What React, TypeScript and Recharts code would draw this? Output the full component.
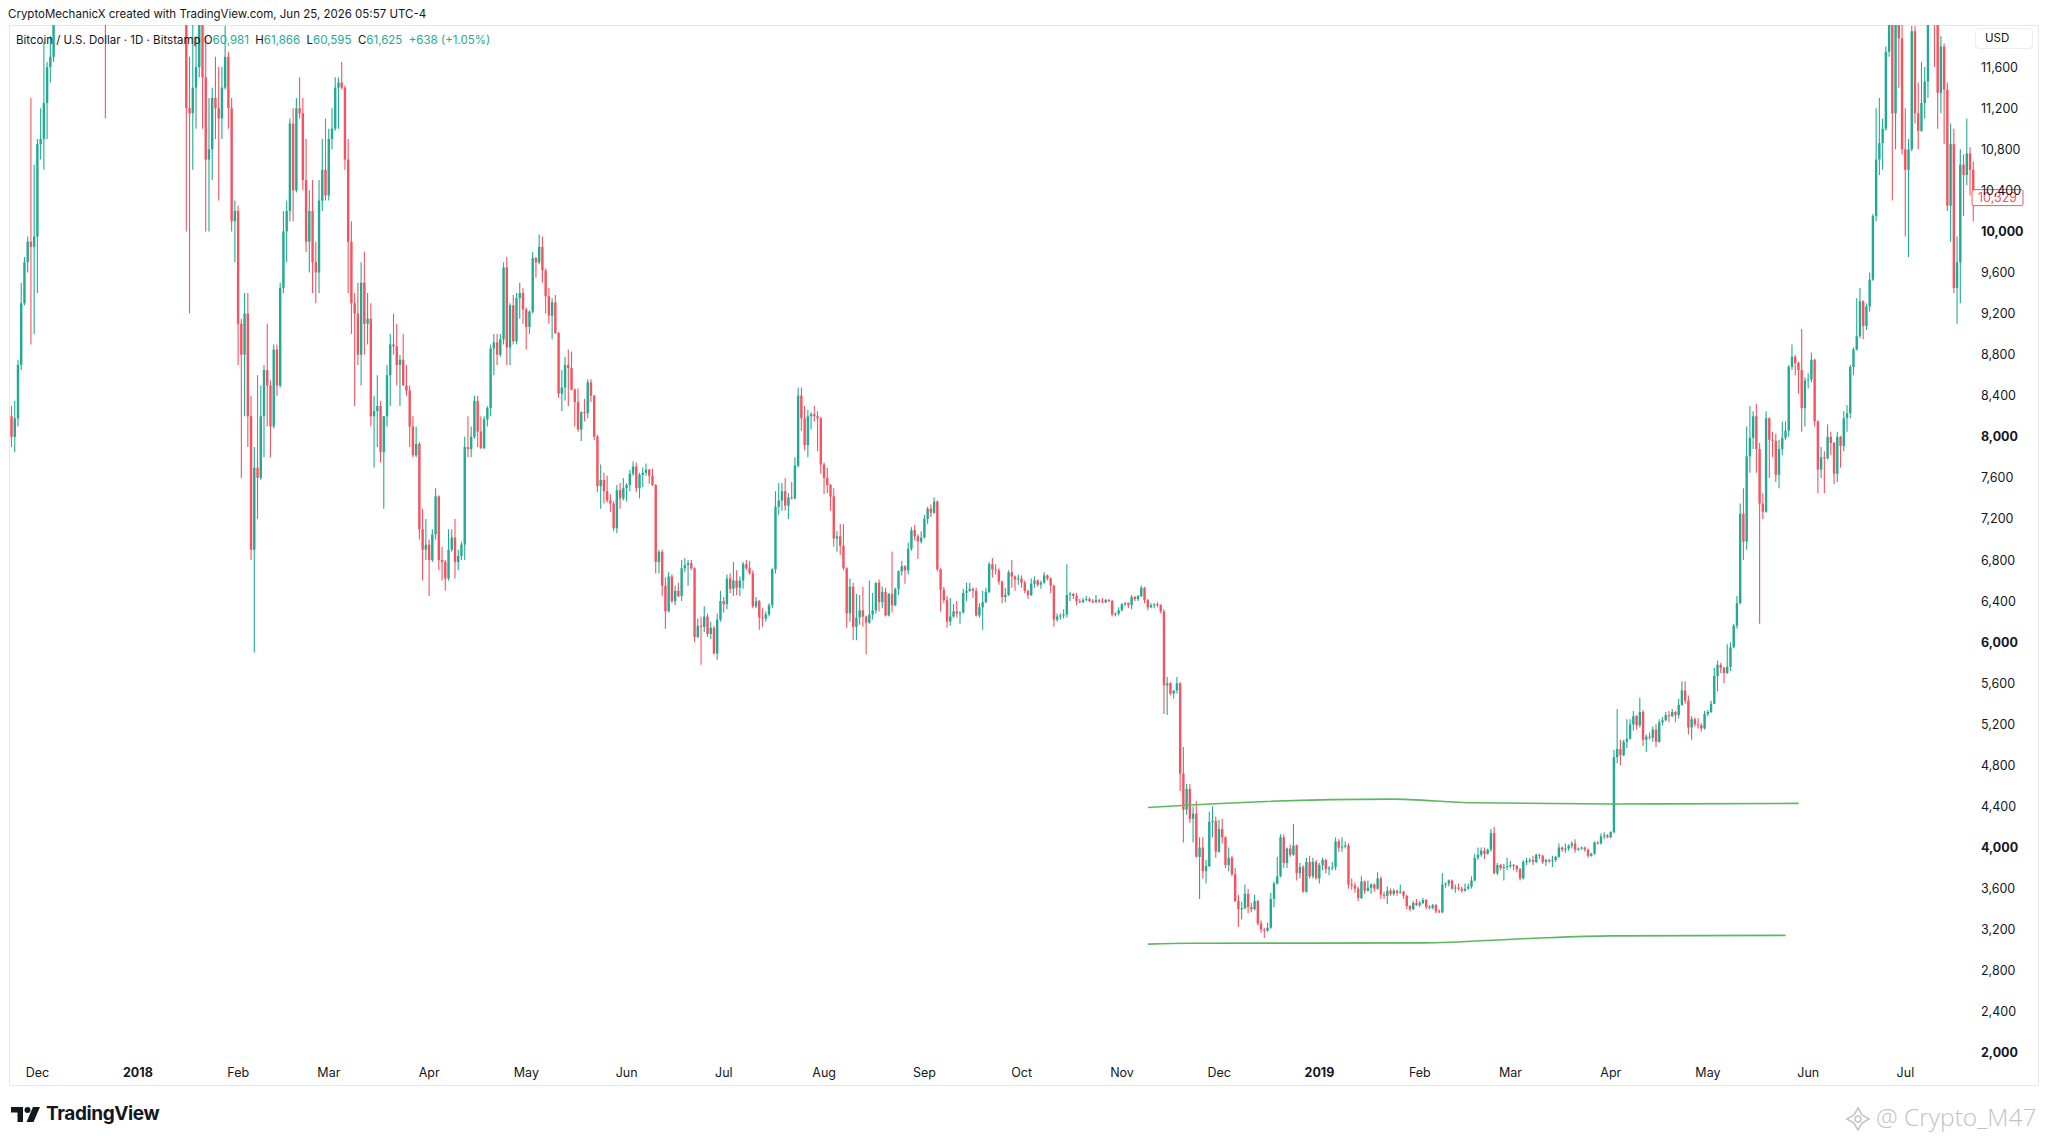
import React from "react";
import { ComposedChart, Bar, Line, XAxis, YAxis, ReferenceLine } from "recharts";

type Ohlc = [number, number, number, number]; // open, high, low, close

// ---- daily candles, BTC/USD Bitstamp ----
const nov2017: Ohlc[] = [
  [8200,8300,7900,8000],[8000,8350,7850,8180],[8180,8750,8100,8700],[8700,9500,8650,9300],[9300,9750,9280,9700],
  [9700,9950,9600,9900],[9900,11300,8900,9850],[9850,10650,9000,9950],
];
const dec2017: Ohlc[] = [
  [9950,10900,9400,10850],[10850,11200,10700,10900],[10900,11850,10600,11250],[11250,11650,10900,11600],[11600,11900,11450,11700],
  [11700,13900,11650,13700],[13700,17200,13500,16800],[16800,17300,13900,16000],[16000,16300,13100,14800],[14800,15600,13000,15000],
  [15000,17400,14900,16700],[16700,17500,16300,17200],[17200,17400,15900,16400],[16400,16900,16100,16600],[16600,17900,16300,17600],
  [17600,19200,17500,19100],[19100,19700,18900,19000],[19000,19100,18000,18900],[18900,19000,16500,17500],[17500,17800,15300,16400],
  [16400,17300,14700,15500],[15500,15800,11100,13600],[13600,15300,13400,14000],[14000,14100,12500,13800],[13800,14300,13300,13900],
  [13900,16400,13800,15800],[15800,16400,14800,15300],[15300,15400,13600,14300],[14300,15100,14000,14600],[14600,14700,12100,12700],
  [12700,14300,12600,13800],
];
const jan2018: Ohlc[] = [
  [13800,13900,12800,13400],[13400,15300,12900,14700],[14700,15400,14600,15100],[15100,15400,14000,15150],[15150,17100,14600,16900],
  [16900,17200,16200,17000],[17000,17050,15700,16100],[16100,16200,13900,14900],[14900,15400,14200,14500],[14500,14800,13100,14700],
  [14700,14800,12800,13300],[13300,14100,12800,13800],[13800,14600,13700,14200],[14200,14300,13100,13600],[13600,14300,13400,13650],
  [13650,13700,10000,11200],[11200,11700,9200,11150],[11150,12100,10600,11400],[11400,11900,11000,11600],[11600,13000,11500,12800],
  [12800,12850,11000,11500],[11500,11900,10000,10700],[10700,11300,10000,10800],[10800,11400,10500,11300],[11300,11700,10900,11200],
  [11200,11600,10300,11100],[11100,11600,10900,11400],[11400,12000,11380,11700],[11700,11750,11000,11200],[11200,11300,10000,10100],
  [10100,10300,9700,10200],
];
const feb2018: Ohlc[] = [
  [10200,10250,8700,9100],[9100,9150,7600,8800],[8800,9400,8200,9200],[9200,9400,7900,8200],[8200,8400,6800,6900],
  [6900,7900,5900,7700],[7700,8600,7200,7600],[7600,8500,7580,8200],[8200,8700,7800,8650],[8650,9100,8100,8500],
  [8500,8550,7800,8100],[8100,8900,8080,8850],[8850,8900,8400,8500],[8500,9500,8480,9450],[9450,10200,9400,10000],
  [10000,10300,9700,10200],[10200,11100,10100,11050],[11050,11200,10100,10400],[10400,11300,10380,11200],[11200,11500,11100,11150],
  [11150,11300,10400,10500],[10500,10900,9800,9900],[9900,10400,9600,10200],[10200,10500,9400,9700],[9700,9900,9300,9600],
  [9600,10500,9400,10300],[10300,10900,10200,10600],[10600,11100,10300,10350],
];
const mar2018: Ohlc[] = [
  [10350,11000,10300,10900],[10900,11200,10800,11000],[11000,11500,10980,11400],[11400,11500,11000,11450],[11450,11650,11380,11400],
  [11400,11420,10600,10700],[10700,10900,9400,9900],[9900,10100,9000,9300],[9300,9400,8300,9200],[9200,9500,8700,8800],
  [8800,9700,8500,9500],[9500,9800,8800,9100],[9100,9400,8900,9150],[9150,9300,8100,8200],[8200,8400,7700,8250],
  [8250,8600,7900,8300],[8300,8350,7750,7850],[7850,8200,7300,8200],[8200,8700,8100,8600],[8600,9000,8300,8900],
  [8900,9200,8800,8880],[8880,9100,8500,8700],[8700,8800,8300,8750],[8750,9000,8500,8500],[8500,8700,8400,8450],
  [8450,8500,7900,8100],[8100,8200,7800,7820],[7820,8100,7800,7930],[7930,7950,7000,7100],[7100,7300,6600,6900],
  [6900,7200,6800,6950],
];
const apr2018: Ohlc[] = [
  [6950,7000,6450,6800],[6800,7100,6780,7050],[7050,7500,7000,7420],[7420,7430,6700,6800],[6800,6930,6600,6780],
  [6780,6800,6500,6620],[6620,7100,6600,6900],[6900,7100,6880,7020],[7020,7200,6620,6780],[6780,6900,6700,6840],
  [6840,6980,6800,6950],[6950,8000,6800,7900],[7900,8200,7800,7880],[7880,8100,7800,8000],[8000,8400,7980,8350],
  [8350,8400,7900,8050],[8050,8200,7880,7890],[7890,8200,7880,8170],[8170,8300,8100,8280],[8280,8900,8200,8860],
  [8860,9000,8600,8920],[8920,9000,8700,8800],[8800,9000,8780,8950],[8950,9700,8900,9650],[9650,9750,8700,8870],
  [8870,9300,8700,9280],[9280,9380,8900,8930],[8930,9400,8900,9350],[9350,9500,9150,9400],[9400,9450,9100,9240],
];
const may2018: Ohlc[] = [
  [9240,9260,8850,9070],[9070,9230,9000,9220],[9220,9800,9200,9740],[9740,9750,9550,9700],[9700,9970,9680,9850],
  [9850,9950,9500,9620],[9620,9640,9200,9370],[9370,9450,9100,9180],[9180,9350,8950,9310],[9310,9380,9000,9010],
  [9010,9020,8380,8420],[8420,8650,8250,8480],[8480,8780,8350,8700],[8700,8850,8300,8670],[8670,8830,8450,8460],
  [8460,8470,8100,8340],[8340,8470,8050,8070],[8070,8250,7960,8240],[8240,8370,8150,8230],[8230,8560,8180,8530],
  [8530,8560,8340,8400],[8400,8410,7970,8000],[8000,8020,7460,7520],[7520,7730,7300,7580],[7580,7650,7350,7470],
  [7470,7620,7360,7380],[7380,7440,7270,7350],[7350,7370,7080,7110],[7110,7530,7060,7480],[7480,7550,7300,7400],
  [7400,7600,7380,7500],
];
const jun2018: Ohlc[] = [
  [7500,7550,7370,7530],[7530,7680,7470,7640],[7640,7760,7620,7710],[7710,7750,7460,7500],[7500,7650,7400,7630],
  [7630,7700,7510,7650],[7650,7740,7620,7680],[7680,7690,7540,7620],[7620,7690,7520,7530],[7530,7540,6670,6780],
  [6780,6900,6670,6880],[6880,6900,6450,6550],[6550,6630,6130,6300],[6300,6680,6290,6640],[6640,6660,6380,6400],
  [6400,6550,6360,6500],[6500,6580,6440,6450],[6450,6800,6400,6720],[6720,6820,6680,6750],[6750,6800,6550,6770],
  [6770,6800,6700,6720],[6720,6730,6000,6050],[6050,6230,6040,6160],[6160,6250,5780,6150],[6150,6350,6100,6250],
  [6250,6280,6050,6080],[6080,6200,6030,6140],[6140,6160,5880,5890],[5890,6280,5830,6220],[6220,6500,6200,6400],
];
const jul2018: Ohlc[] = [
  [6400,6440,6290,6370],[6370,6660,6320,6620],[6620,6670,6480,6520],[6520,6780,6450,6600],[6600,6700,6460,6530],
  [6530,6640,6450,6600],[6600,6780,6520,6760],[6760,6800,6700,6720],[6720,6790,6660,6670],[6670,6700,6330,6350],
  [6350,6440,6330,6400],[6400,6410,6120,6240],[6240,6330,6150,6230],[6230,6300,6200,6270],[6270,6380,6250,6360],
  [6360,6720,6330,6710],[6710,7470,6670,7320],[7320,7550,7240,7380],[7380,7550,7280,7470],[7470,7600,7280,7330],
  [7330,7450,7200,7410],[7410,7560,7390,7400],[7400,7800,7390,7720],[7720,8480,7700,8400],[8400,8480,8060,8180],
  [8180,8300,7870,7920],[7920,8260,7800,8200],[8200,8240,8070,8220],[8220,8300,8150,8200],[8200,8250,7860,8180],
  [8180,8190,7640,7730],
];
const aug2018: Ohlc[] = [
  [7730,7750,7440,7600],[7600,7700,7450,7530],[7530,7540,7280,7420],[7420,7500,6930,7010],[7010,7080,6880,7030],
  [7030,7150,6850,6940],[6940,7150,6700,6720],[6720,6730,6140,6280],[6280,6620,6200,6540],[6540,6580,6020,6150],
  [6150,6470,6020,6240],[6240,6460,6170,6310],[6310,6540,6150,6250],[6250,6260,5880,6190],[6190,6600,6180,6270],
  [6270,6480,6220,6310],[6310,6580,6280,6580],[6580,6610,6300,6390],[6390,6540,6330,6490],[6490,6530,6250,6260],
  [6260,6480,6250,6470],[6470,6880,6290,6360],[6360,6530,6350,6520],[6520,6700,6460,6690],[6690,6790,6650,6740],
  [6740,6750,6570,6700],[6700,6970,6660,6910],[6910,7120,6890,7090],[7090,7140,6990,7030],[7030,7050,6810,6980],
  [6980,7080,6960,7020],
];
const sep2018: Ohlc[] = [
  [7020,7240,7010,7200],[7200,7320,7150,7300],[7300,7340,7220,7260],[7260,7410,7250,7370],[7370,7380,6690,6710],
  [6710,6720,6300,6510],[6510,6540,6380,6410],[6410,6450,6140,6200],[6200,6430,6160,6250],[6250,6370,6240,6300],
  [6300,6400,6240,6280],[6280,6300,6180,6290],[6290,6520,6280,6480],[6480,6580,6400,6500],[6500,6580,6490,6520],
  [6520,6530,6430,6500],[6500,6530,6250,6260],[6260,6380,6240,6340],[6340,6500,6120,6390],[6390,6530,6380,6490],
  [6490,6780,6480,6760],[6760,6820,6630,6710],[6710,6760,6660,6700],[6700,6720,6560,6590],[6590,6600,6380,6440],
  [6440,6530,6390,6460],[6460,6700,6450,6680],[6680,6800,6530,6640],[6640,6650,6500,6610],[6610,6660,6560,6620],
];
const oct2018: Ohlc[] = [
  [6620,6650,6530,6580],[6580,6600,6480,6500],[6500,6510,6420,6460],[6460,6620,6450,6570],[6570,6640,6530,6600],
  [6600,6610,6540,6560],[6560,6600,6520,6580],[6580,6680,6570,6650],[6650,6660,6600,6620],[6620,6630,6480,6550],
  [6550,6560,6150,6220],[6220,6280,6200,6250],[6250,6280,6220,6260],[6260,6320,6230,6270],[6270,6760,6240,6460],
  [6460,6490,6400,6470],[6470,6480,6420,6450],[6450,6480,6360,6400],[6400,6420,6380,6390],[6390,6430,6380,6410],
  [6410,6450,6400,6420],[6420,6440,6390,6400],[6400,6420,6380,6390],[6390,6460,6380,6410],[6410,6420,6380,6400],
  [6400,6430,6380,6390],[6390,6420,6380,6410],[6410,6420,6390,6400],[6400,6410,6250,6270],[6270,6290,6250,6280],
  [6280,6340,6260,6310],
];
const nov2018: Ohlc[] = [
  [6310,6380,6300,6370],[6370,6390,6350,6380],[6380,6390,6330,6360],[6360,6460,6320,6440],[6440,6450,6400,6420],
  [6420,6460,6400,6450],[6450,6550,6440,6530],[6530,6540,6380,6410],[6410,6420,6310,6340],[6340,6380,6330,6360],
  [6360,6380,6330,6370],[6370,6390,6340,6360],[6360,6370,6280,6300],[6300,6320,5300,5580],[5580,5660,5290,5600],
  [5600,5610,5480,5500],[5500,5530,5450,5530],[5530,5660,5500,5600],[5600,5610,4550,4720],[4720,4980,4050,4370],
  [4370,4620,4320,4570],[4570,4620,4240,4280],[4280,4400,4050,4330],[4330,4450,3900,3910],[3910,4100,3500,4000],
  [4000,4100,3700,3770],[3770,3880,3650,3820],[3820,4350,3810,4250],[4250,4400,4100,4260],[4260,4300,3900,3960],
];
const dec2018: Ohlc[] = [
  [3960,4270,3950,4180],[4180,4280,4040,4100],[4100,4110,3800,3830],[3830,4000,3770,3900],[3900,3920,3720,3740],
  [3740,3800,3470,3480],[3480,3540,3230,3400],[3400,3470,3300,3410],[3410,3640,3400,3550],[3550,3600,3360,3420],
  [3420,3460,3370,3400],[3400,3540,3390,3480],[3480,3490,3240,3260],[3260,3290,3170,3200],[3200,3220,3120,3190],
  [3190,3270,3180,3220],[3220,3560,3210,3500],[3500,3670,3420,3650],[3650,3910,3640,3720],[3720,4130,3710,4100],
  [4100,4130,3800,3850],[3850,4000,3800,3990],[3990,4030,3910,3930],[3930,4230,3920,4020],[4020,4030,3680,3750],
  [3750,3850,3700,3810],[3810,3830,3560,3570],[3570,3900,3560,3860],[3860,3920,3700,3720],[3720,3900,3700,3860],
  [3860,3880,3690,3700],
];
const jan2019: Ohlc[] = [
  [3700,3850,3650,3830],[3830,3900,3780,3880],[3880,3890,3750,3790],[3790,3820,3730,3800],[3800,3860,3780,3810],
  [3810,4100,3780,4060],[4060,4080,3960,4000],[4000,4100,3960,4010],[4010,4060,3990,4020],[4020,4040,3600,3640],
  [3640,3700,3590,3630],[3630,3660,3560,3600],[3600,3620,3480,3510],[3510,3720,3500,3670],[3670,3680,3550,3580],
  [3580,3680,3570,3610],[3610,3650,3550,3640],[3640,3650,3570,3600],[3600,3760,3590,3700],[3700,3720,3500,3540],
  [3540,3570,3500,3530],[3530,3620,3450,3580],[3580,3600,3530,3550],[3550,3600,3530,3580],[3580,3590,3530,3560],
  [3560,3640,3550,3570],[3570,3580,3500,3530],[3530,3540,3400,3430],[3430,3440,3380,3400],[3400,3480,3390,3460],
  [3460,3500,3430,3440],
];
const feb2019: Ohlc[] = [
  [3440,3480,3420,3460],[3460,3510,3450,3490],[3490,3500,3400,3420],[3420,3440,3400,3410],[3410,3450,3400,3440],
  [3440,3450,3360,3380],[3380,3400,3360,3370],[3370,3750,3360,3640],[3640,3660,3610,3650],[3650,3690,3620,3680],
  [3680,3690,3590,3600],[3600,3640,3560,3610],[3610,3650,3580,3600],[3600,3620,3560,3580],[3580,3650,3570,3600],
  [3600,3650,3590,3620],[3620,3720,3600,3680],[3680,3940,3670,3900],[3900,4000,3880,3930],[3930,4000,3910,3970],
  [3970,4000,3890,3940],[3940,3990,3930,3980],[3980,4180,3960,4140],[4140,4200,3740,3750],[3750,3850,3730,3830],
  [3830,3840,3780,3800],[3800,3840,3680,3810],[3810,3900,3780,3820],
];
const mar2019: Ohlc[] = [
  [3820,3870,3800,3830],[3830,3840,3780,3820],[3820,3830,3760,3790],[3790,3800,3680,3700],[3700,3880,3690,3860],
  [3860,3900,3830,3870],[3870,3900,3850,3880],[3880,3920,3830,3860],[3860,3940,3850,3930],[3930,3940,3890,3920],
  [3920,3930,3840,3860],[3860,3890,3820,3880],[3880,3890,3850,3870],[3870,3920,3810,3880],[3880,3920,3860,3910],
  [3910,4040,3900,4000],[4000,4010,3960,3980],[3980,4040,3950,3990],[3990,4030,3970,4020],[4020,4060,3990,4040],
  [4040,4080,3950,3980],[3980,4000,3970,3990],[3990,4010,3980,4000],[4000,4010,3960,3980],[3980,3990,3900,3920],
  [3920,3950,3910,3940],[3940,4060,3930,4050],[4050,4060,4030,4040],[4040,4140,4030,4110],[4110,4150,4080,4120],
  [4120,4130,4090,4100],
];
const apr2019: Ohlc[] = [
  [4100,4160,4090,4150],[4150,4950,4140,4880],[4880,5350,4820,4960],[4960,5050,4800,4900],[4900,5050,4890,5030],
  [5030,5250,4970,5060],[5060,5250,5050,5200],[5200,5330,5140,5280],[5280,5290,5150,5190],[5190,5460,5170,5320],
  [5320,5340,4990,5050],[5050,5100,4930,5080],[5080,5120,5050,5070],[5070,5180,5030,5150],[5150,5200,4980,5030],
  [5030,5250,5020,5220],[5220,5270,5190,5240],[5240,5320,5230,5290],[5290,5330,5220,5280],[5280,5350,5270,5320],
  [5320,5330,5220,5290],[5290,5450,5260,5390],[5390,5620,5380,5530],[5530,5620,5400,5430],[5430,5480,5100,5170],
  [5170,5280,5050,5250],[5250,5270,5180,5200],[5200,5260,5160,5190],[5190,5210,5130,5160],[5160,5330,5150,5300],
];
const may2019: Ohlc[] = [
  [5300,5340,5280,5320],[5320,5430,5310,5400],[5400,5750,5400,5670],[5670,5820,5520,5780],[5780,5800,5700,5750],
  [5750,5760,5600,5700],[5700,5980,5690,5760],[5760,6000,5720,5950],[5950,6180,5940,6160],[6160,6450,6130,6380],
  [6380,7350,6370,7250],[7250,7500,6800,6980],[6980,8100,6900,7810],[7810,8300,7650,7990],[7990,8250,7880,8200],
  [8200,8320,7650,7880],[7880,7940,6180,7350],[7350,7450,7200,7270],[7270,8250,7260,8180],[8180,8190,7600,7970],
  [7970,8050,7800,7960],[7960,8030,7560,7630],[7630,7970,7500,7880],[7880,8150,7820,7990],[7990,8150,7970,8060],
  [8060,8700,8000,8680],[8680,8900,8650,8780],[8780,8800,8600,8720],[8720,8730,8420,8650],[8650,9050,8050,8280],
  [8280,8580,8100,8550],
];
const jun2019: Ohlc[] = [
  [8550,8620,8470,8560],[8560,8820,8530,8750],[8750,8760,8100,8150],[8150,8160,7450,7680],[7680,7900,7600,7800],
  [7800,7860,7450,7790],[7790,8120,7780,8000],[8000,8050,7820,7940],[7940,7950,7540,7640],[7640,8050,7560,8000],
  [8000,8010,7700,7910],[7910,8250,7860,8180],[8180,8310,8050,8230],[8230,8700,8180,8680],[8680,8870,8600,8850],
  [8850,9350,8840,8980],[8980,9450,8960,9320],[9320,9330,8950,9080],[9080,9300,9040,9270],[9270,9600,9220,9530],
  [9530,10170,9520,10150],[10150,11200,10100,10700],[10700,11300,10550,10860],[10860,11100,10600,11000],[11000,11800,10980,11750],
  [11750,13800,11700,12950],[12950,13300,10300,11150],[11150,12400,10800,12350],[12350,12400,11400,11880],[11880,12200,10750,10800],
];
const jul2019: Ohlc[] = [
  [10800,11200,9950,10600],[10600,10900,9750,10800],[10800,12000,10780,11950],[11950,12000,11050,11150],[11150,11450,10800,10980],
  [10980,11650,10970,11250],[11250,11600,11100,11460],[11460,12380,11300,12300],[12300,12800,12100,12550],[12550,13150,11600,12100],
  [12100,12110,11000,11350],[11350,11900,11150,11800],[11800,11830,10850,11380],[11380,11450,10200,10250],[10250,11050,9900,10850],
  [10850,11000,9400,9450],[9450,9950,9100,9700],[9700,10800,9300,10650],[10650,10750,10150,10550],[10550,11100,10450,10760],
  [10760,10820,10350,10600],[10600,10680,10100,10329],
];

const candleMonths: Ohlc[][] = [
  nov2017, dec2017, jan2018, feb2018, mar2018, apr2018, may2018, jun2018, jul2018, aug2018, sep2018,
  oct2018, nov2018, dec2018, jan2019, feb2019, mar2019, apr2019, may2019, jun2019, jul2019,
];
const FIRST_DAY = "2017-11-23";

// hand-drawn green channel lines (date, price)
const upperLine: [string, number][] = [
  ["2018-11-09", 4390], ["2018-11-22", 4415], ["2019-01-23", 4472], ["2019-02-18", 4436], ["2019-04-01", 4425], ["2019-05-29", 4430],
];
const lowerLine: [string, number][] = [
  ["2018-11-09", 3060], ["2018-11-22", 3068], ["2019-02-02", 3072], ["2019-03-05", 3112], ["2019-04-01", 3140], ["2019-05-25", 3145],
];

// axis ticks
const priceTicks = [2000, 2400, 2800, 3200, 3600, 4000, 4400, 4800, 5200, 5600, 6000, 6400, 6800, 7200, 7600, 8000, 8400, 8800, 9200, 9600, 10000, 10400, 10800, 11200, 11600];
const boldPrices = [2000, 4000, 6000, 8000, 10000];
const monthTicks = [
  "2017-12-01", "2018-01-01", "2018-02-01", "2018-03-01", "2018-04-01", "2018-05-01", "2018-06-01", "2018-07-01", "2018-08-01",
  "2018-09-01", "2018-10-01", "2018-11-01", "2018-12-01", "2019-01-01", "2019-02-01", "2019-03-01", "2019-04-01", "2019-05-01",
  "2019-06-01", "2019-07-01",
];
const monthNames = ["Jan", "Feb", "Mar", "Apr", "May", "Jun", "Jul", "Aug", "Sep", "Oct", "Nov", "Dec"];
const lastPrice = 10329;

const UP = "#22ab94";
const DOWN = "#f7525f";
const TEXT = "#131722";
const FONT = "Inter, 'Noto Sans', Roboto, sans-serif";

// ---- build table ----
const upperMap = new Map(upperLine);
const lowerMap = new Map(lowerLine);
const startMs = Date.parse(FIRST_DAY + "T00:00:00Z");
const rows = candleMonths.flat().map((c, i) => {
  const date = new Date(startMs + i * 86400000).toISOString().slice(0, 10);
  const [open, high, low, close] = c;
  return {
    date, open, high, low, close,
    range: [low, high],
    upper: upperMap.get(date),
    lower: lowerMap.get(date),
  };
});

const Candle = (props: any) => {
  const { x, y, width, height, payload } = props;
  if (!payload || x == null || y == null) return null;
  const { open, close, high, low } = payload;
  const color = close >= open ? UP : DOWN;
  const yTop = Math.min(y, y + height);
  const h = Math.abs(height);
  const k = high > low ? h / (high - low) : 0;
  const yO = yTop + (high - open) * k;
  const yC = yTop + (high - close) * k;
  const cx = x + width / 2;
  const bw = Math.max(1, width * 0.8);
  const bTop = Math.min(yO, yC);
  const bh = Math.max(1, Math.abs(yO - yC));
  return (
    <g>
      <line x1={cx} x2={cx} y1={yTop} y2={yTop + h} stroke={color} strokeWidth={1.1} />
      <rect x={cx - bw / 2} y={bTop} width={bw} height={bh} fill={color} />
    </g>
  );
};

const PriceTick = (props: any) => {
  const { x, y, payload } = props;
  const v = payload.value as number;
  return (
    <text x={x - 2} y={y + 4.5} textAnchor="start" fontFamily={FONT} fontSize={12.5}
      fontWeight={boldPrices.includes(v) ? 700 : 400} fill={TEXT}>
      {v.toLocaleString("en-US")}
    </text>
  );
};

const TimeTick = (props: any) => {
  const { x, y, payload } = props;
  const d = String(payload.value);
  const m = Number(d.slice(5, 7));
  const isYear = m === 1;
  const label = isYear ? d.slice(0, 4) : monthNames[m - 1];
  return (
    <text x={x} y={y + 7} textAnchor="middle" fontFamily={FONT} fontSize={12.5}
      fontWeight={isYear ? 700 : 400} fill={TEXT}>
      {label}
    </text>
  );
};

const PriceLabel = (props: any) => {
  const vb = props.viewBox || {};
  const right = (vb.x || 0) + (vb.width || 0);
  const cy = vb.y || 0;
  return (
    <g>
      <rect x={right - 3} y={cy - 8} width={51} height={16} rx={2} fill="#ffffff" stroke={DOWN} strokeWidth={1} />
      <text x={right + 3} y={cy + 4.5} fontFamily={FONT} fontSize={12.5} fill={DOWN}>
        {lastPrice.toLocaleString("en-US")}
      </text>
    </g>
  );
};

export default function App() {
  return (
    <div style={{ position: "absolute", left: 0, top: 0, width: 2048, height: 1143, background: "#ffffff", overflow: "hidden", fontFamily: FONT, color: TEXT }}>
      <div style={{ position: "absolute", left: 9, top: 25, width: 2028, height: 1059, border: "1px solid #e6e8ee" }} />
      <div style={{ position: "absolute", left: 0, top: 0 }}>
        <ComposedChart width={2048} height={1143} data={rows} margin={{ top: 25, right: 13, bottom: 58, left: 10 }} barCategoryGap={0} barGap={0}>
          <XAxis dataKey="date" type="category" ticks={monthTicks} interval={0} tick={<TimeTick />} tickLine={false} axisLine={false} height={23} />
          <YAxis orientation="right" width={60} domain={[1912, 12010]} allowDataOverflow ticks={priceTicks} tick={<PriceTick />} tickLine={false} axisLine={false} />
          <Bar dataKey="range" shape={<Candle />} isAnimationActive={false} />
          <Line dataKey="upper" type="monotone" connectNulls dot={false} stroke="#5cb860" strokeWidth={1.6} isAnimationActive={false} />
          <Line dataKey="lower" type="monotone" connectNulls dot={false} stroke="#5cb860" strokeWidth={1.6} isAnimationActive={false} />
          <ReferenceLine y={lastPrice} stroke="none" label={<PriceLabel />} />
        </ComposedChart>
      </div>
      <div style={{ position: "absolute", left: 8, top: 6, fontSize: 11.5, lineHeight: "16px", whiteSpace: "nowrap" }}>
        CryptoMechanicX created with TradingView.com, Jun 25, 2026 05:57 UTC-4
      </div>
      <div style={{ position: "absolute", left: 16, top: 32, fontSize: 11.5, lineHeight: "16px", whiteSpace: "nowrap" }}>
        Bitcoin / U.S. Dollar · 1D · Bitstamp{" "}
        O<span style={{ color: UP }}>60,981</span>
        &nbsp;&nbsp;H<span style={{ color: UP }}>61,866</span>
        &nbsp;&nbsp;L<span style={{ color: UP }}>60,595</span>
        &nbsp;&nbsp;C<span style={{ color: UP }}>61,625</span>
        &nbsp;&nbsp;<span style={{ color: UP }}>+638 (+1.05%)</span>
      </div>
      <div style={{ position: "absolute", left: 1975, top: 28, width: 58, height: 21, border: "1px solid #eceef2", borderRadius: 4, boxSizing: "border-box", fontSize: 11.5, lineHeight: "19px", paddingLeft: 9 }}>
        USD
      </div>
      <svg style={{ position: "absolute", left: 11, top: 1107 }} width={30} height={16} viewBox="0 0 30 16">
        <path d="M0 0 H12 V15 H6.5 V5.5 H0 Z" fill={TEXT} />
        <circle cx={16.5} cy={3} r={3} fill={TEXT} />
        <path d="M22 0 H29 L22.5 15 H15.5 Z" fill={TEXT} />
      </svg>
      <div style={{ position: "absolute", left: 46, top: 1102, fontSize: 19, fontWeight: 700, lineHeight: "24px", letterSpacing: -0.4 }}>
        TradingView
      </div>
      <svg style={{ position: "absolute", left: 1845, top: 1106 }} width={26} height={26} viewBox="0 0 26 26">
        <path d="M13 2 L17 9 L24 13 L17 17 L13 24 L9 17 L2 13 L9 9 Z" fill="none" stroke="#c4c4c4" strokeWidth={1.6} />
        <circle cx={13} cy={13} r={3} fill="none" stroke="#c4c4c4" strokeWidth={1.4} />
      </svg>
      <div style={{ position: "absolute", left: 1876, top: 1102, fontSize: 24.5, fontWeight: 300, lineHeight: "30px", color: "#c2c2c2", whiteSpace: "nowrap", fontFamily: "'Open Sans', Lato, sans-serif" }}>
        @ Crypto_M47
      </div>
    </div>
  );
}
